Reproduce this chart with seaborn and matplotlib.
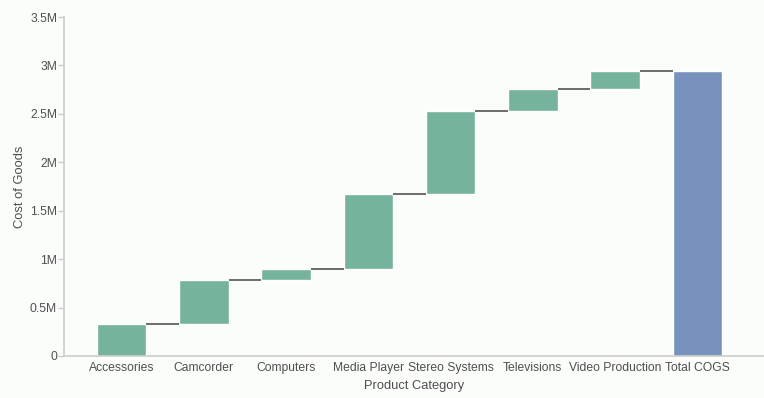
import numpy as np
import pandas as pd
import matplotlib
matplotlib.use('Agg')
import matplotlib.pyplot as plt
import seaborn as sns
from matplotlib.ticker import FuncFormatter, MultipleLocator

# data (cost of goods per product category)
categories = ['Accessories', 'Camcorder', 'Computers', 'Media Player',
              'Stereo Systems', 'Televisions', 'Video Production']
increments = [333000, 452000, 113000, 775000, 856000, 228000, 185000]
total_label = 'Total COGS'

STEP_COLOR = '#75b39b'
TOTAL_COLOR = '#7692bd'
TEXT = '#4f4f4f'
AXIS = '#cccccc'
BG = '#fbfdfb'

ends = np.cumsum(increments)
starts = ends - np.array(increments)
total = ends[-1]

df = pd.DataFrame({
    'category': categories + [total_label],
    'value': list(increments) + [total],
    'base': list(starts) + [0],
})

sns.set_theme(style='white')
plt.rcParams['font.family'] = ['Liberation Sans', 'DejaVu Sans']

fig = plt.figure(figsize=(7.64, 3.98), dpi=100, facecolor=BG)
ax = fig.add_axes([64 / 764, 42 / 398, 700 / 764, 339 / 398])
ax.set_facecolor(BG)

sns.barplot(data=df, x='category', y='value', order=df['category'],
            color=STEP_COLOR, saturation=1, width=0.6, errorbar=None,
            bottom=df['base'].values, ax=ax)
ax.patches[-1].set_facecolor(TOTAL_COLOR)

# connector lines between the steps
for i, level in enumerate(ends):
    ax.hlines(level, i + 0.3, i + 0.7, color='#444444', lw=1.1, zorder=3)

ax.set_xlim(-0.7, 7.81)
ax.set_ylim(0, 3500000)
ax.yaxis.set_major_locator(MultipleLocator(500000))
ax.yaxis.set_major_formatter(FuncFormatter(
    lambda v, _: '0' if v == 0 else f'{v / 1e6:g}M'))

for side in ['top', 'right']:
    ax.spines[side].set_visible(False)
for side in ['left', 'bottom']:
    ax.spines[side].set_color(AXIS)
    ax.spines[side].set_linewidth(1.2)

ax.tick_params(axis='y', left=True, length=4, width=1, color=AXIS,
               labelsize=8.7, labelcolor=TEXT, pad=1)
ax.tick_params(axis='x', bottom=False, labelsize=8.7, labelcolor=TEXT, pad=-2)

ax.set_xlabel('Product Category', fontsize=9.3, color=TEXT, labelpad=5)
ax.set_ylabel('Cost of Goods', fontsize=9.3, color=TEXT)
ax.yaxis.set_label_coords(-0.054, 0.5)

fig.savefig('out.png', dpi=100, facecolor=BG)
